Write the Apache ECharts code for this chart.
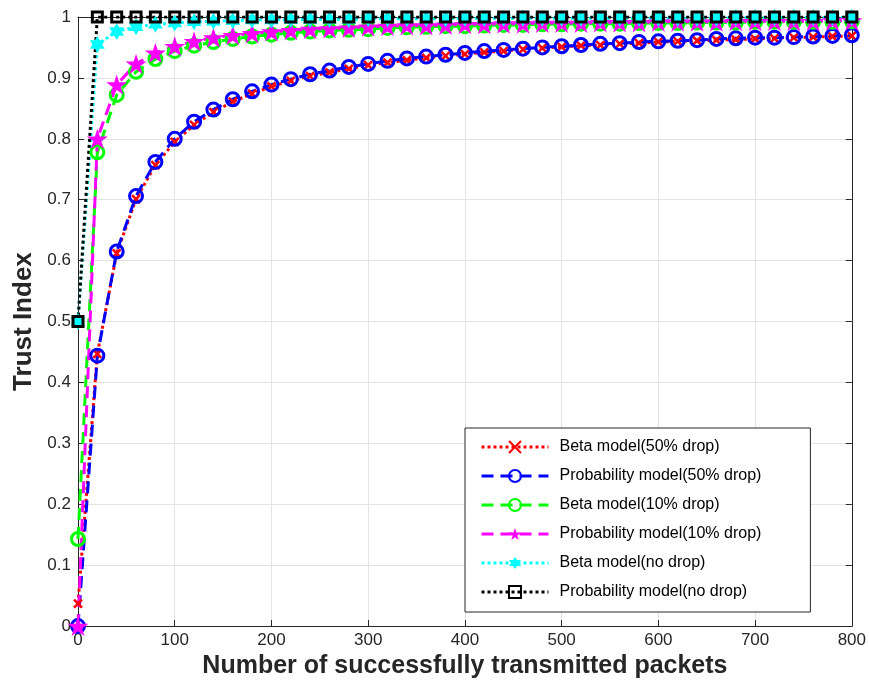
<!DOCTYPE html>
<html>
<head>
<meta charset="utf-8">
<script src="https://cdn.jsdelivr.net/npm/echarts@6/dist/echarts.min.js"></script>
<style>
html,body{margin:0;padding:0;background:#fff;}
#chart{width:869px;height:684px;}
</style>
</head>
<body>
<div id="chart"></div>
<script>
var packets = [0,20,40,60,80,100,120,140,160,180,200,220,240,260,280,300,320,340,360,380,400,420,440,460,480,500,520,540,560,580,600,620,640,660,680,700,720,740,760,780,800];

var betaDrop50 = [0.037,0.447,0.612,0.701,0.757,0.795,0.823,0.844,0.861,0.874,0.886,0.895,0.903,0.909,0.915,0.921,0.925,0.929,0.933,0.936,0.939,0.942,0.944,0.947,0.949,0.951,0.953,0.954,0.956,0.957,0.959,0.960,0.961,0.962,0.963,0.964,0.965,0.966,0.967,0.968,0.969];
var probDrop50 = [0,0.444,0.615,0.706,0.762,0.800,0.828,0.848,0.865,0.878,0.889,0.898,0.906,0.912,0.918,0.923,0.928,0.932,0.935,0.938,0.941,0.944,0.946,0.948,0.950,0.952,0.954,0.956,0.957,0.959,0.960,0.961,0.962,0.964,0.965,0.966,0.966,0.967,0.968,0.969,0.970];
var betaDrop10 = [0.143,0.778,0.872,0.910,0.931,0.944,0.953,0.959,0.964,0.968,0.971,0.974,0.976,0.978,0.979,0.980,0.982,0.983,0.984,0.985,0.985,0.986,0.987,0.987,0.988,0.988,0.989,0.989,0.989,0.990,0.990,0.990,0.991,0.991,0.991,0.992,0.992,0.992,0.992,0.992,0.993];
var probDrop10 = [0,0.800,0.889,0.923,0.941,0.952,0.960,0.966,0.970,0.973,0.976,0.978,0.980,0.981,0.982,0.984,0.985,0.986,0.986,0.987,0.988,0.988,0.989,0.989,0.990,0.990,0.990,0.991,0.991,0.991,0.992,0.992,0.992,0.992,0.993,0.993,0.993,0.993,0.993,0.994,0.994];
var betaNoDrop = [0.500,0.955,0.976,0.984,0.988,0.990,0.992,0.993,0.994,0.995,0.995,0.996,0.996,0.996,0.996,0.997,0.997,0.997,0.997,0.997,0.998,0.998,0.998,0.998,0.998,0.998,0.998,0.998,0.998,0.998,0.998,0.998,0.998,0.998,0.999,0.999,0.999,0.999,0.999,0.999,0.999];
var probNoDrop = [0.5,1,1,1,1,1,1,1,1,1,1,1,1,1,1,1,1,1,1,1,1,1,1,1,1,1,1,1,1,1,1,1,1,1,1,1,1,1,1,1,1];

var seriesNames = ['Beta model(50% drop)','Probability model(50% drop)','Beta model(10% drop)','Probability model(10% drop)','Beta model(no drop)','Probability model(no drop)'];
var xTicks = {min:0, max:800, interval:100};
var yTicks = {min:0, max:1, interval:0.1};

function pairs(ys){ return packets.map(function(x,i){ return [x, ys[i]]; }); }

var FONT = '"Liberation Sans", Arial, Helvetica, sans-serif';
var AXC = '#262626';
var GRIDC = '#e3e3e3';

var starPath = 'path://M0,-100 L22.5,-30.9 L95.1,-30.9 L36.3,11.8 L58.8,80.9 L0,38.2 L-58.8,80.9 L-36.3,11.8 L-95.1,-30.9 L-22.5,-30.9 Z';
var hexPath = 'path://M0,-100 L28.9,-50 L86.6,-50 L57.7,0 L86.6,50 L28.9,50 L0,100 L-28.9,50 L-86.6,50 L-57.7,0 L-86.6,-50 L-28.9,-50 Z';
var xPath = 'path://M0,0 L10,10 M10,0 L0,10';

function mk(name, ys, color, dash, symbol, size, fill, bw){
  return {
    name: name, type: 'line', data: pairs(ys),
    xAxisIndex: 0, yAxisIndex: 0,
    symbol: symbol, symbolSize: size, symbolKeepAspect: true, showAllSymbol: true,
    lineStyle: {color: color, width: 3, type: dash},
    itemStyle: {color: fill, borderColor: color, borderWidth: bw},
    emphasis: {disabled: true},
    silent: true, animation: false
  };
}

var chart = echarts.init(document.getElementById('chart'), null, {renderer:'canvas'});
chart.setOption({
  backgroundColor: '#fff',
  animation: false,
  grid: {left: 78, right: 16, top: 17, bottom: 56, containLabel: false},
  legend: {
    orient: 'vertical', left: 465, top: 428,
    data: seriesNames,
    itemWidth: 67, itemHeight: 15, itemGap: 13,
    padding: [11, 49, 12, 15],
    lineStyle: {width: 3},
    backgroundColor: '#fff', borderColor: AXC, borderWidth: 1,
    textStyle: {fontFamily: FONT, fontSize: 16, color: '#000', padding: [0,0,0,6]},
    selectedMode: false
  },
  xAxis: [{
    type: 'value', min: xTicks.min, max: xTicks.max, interval: xTicks.interval,
    name: 'Number of successfully transmitted packets', nameLocation: 'middle', nameGap: 23,
    nameTextStyle: {fontFamily: FONT, fontSize: 25, fontWeight: 'bold', color: AXC},
    axisLine: {onZero: false, lineStyle: {color: AXC, width: 1}},
    axisTick: {inside: true, length: 6, lineStyle: {color: AXC}},
    axisLabel: {fontFamily: FONT, fontSize: 17, color: AXC, margin: 6},
    splitLine: {show: true, lineStyle: {color: GRIDC, width: 1}}
  },{
    type: 'value', position: 'top', min: xTicks.min, max: xTicks.max, interval: xTicks.interval,
    axisLine: {onZero: false, lineStyle: {color: AXC, width: 1}},
    axisTick: {inside: true, length: 6, lineStyle: {color: AXC}},
    axisLabel: {show: false}, splitLine: {show: false}
  }],
  yAxis: [{
    type: 'value', min: yTicks.min, max: yTicks.max, interval: yTicks.interval,
    name: 'Trust Index', nameLocation: 'middle', nameGap: 40,
    nameTextStyle: {fontFamily: FONT, fontSize: 26, fontWeight: 'bold', color: AXC},
    axisLine: {show: true, onZero: false, lineStyle: {color: AXC, width: 1}},
    axisTick: {show: true, inside: true, length: 6, lineStyle: {color: AXC}},
    axisLabel: {fontFamily: FONT, fontSize: 17, color: AXC, margin: 7,
      formatter: function(v){ return String(Math.round(v*10)/10); }},
    splitLine: {show: true, lineStyle: {color: GRIDC, width: 1}}
  },{
    type: 'value', position: 'right', min: yTicks.min, max: yTicks.max, interval: yTicks.interval,
    axisLine: {show: true, onZero: false, lineStyle: {color: AXC, width: 1}},
    axisTick: {show: true, inside: true, length: 6, lineStyle: {color: AXC}},
    axisLabel: {show: false}, splitLine: {show: false}
  }],
  series: [
    mk(seriesNames[0], betaDrop50, '#ff0000', [3,3], xPath, 8, '#ff0000', 2.5),
    mk(seriesNames[1], probDrop50, '#0000ff', [12,7], 'circle', 13, 'rgba(0,0,0,0)', 3),
    mk(seriesNames[2], betaDrop10, '#00ff00', [12,7], 'circle', 13, 'rgba(0,0,0,0)', 3),
    mk(seriesNames[3], probDrop10, '#ff00ff', [12,7], starPath, 21, '#ff00ff', 0),
    mk(seriesNames[4], betaNoDrop, '#00ffff', [3,3], hexPath, 17, '#00ffff', 0),
    mk(seriesNames[5], probNoDrop, '#000000', [3,3], 'rect', 10, 'rgba(0,0,0,0)', 3)
  ]
});
</script>
</body>
</html>
